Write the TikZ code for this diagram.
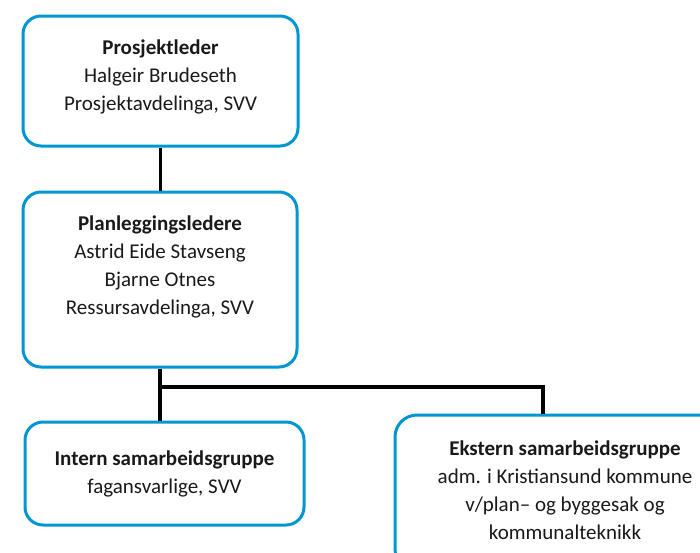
\documentclass[tikz,border=0pt]{standalone}
\usepackage{fontspec}
\setmainfont{Carlito}
\usepackage{tikz}
\definecolor{svvblue}{RGB}{0, 150, 210}
\definecolor{textgrey}{RGB}{25, 25, 25}

\begin{document}
\begin{tikzpicture}[x=1pt, y=-1pt,
  every node/.style={font=\fontsize{21}{28}\selectfont, text=textgrey, align=center},
  orgbox/.style={draw=svvblue, line width=3pt, rounded corners=18pt, inner sep=0pt},
  link/.style={line width=3.5pt}]
  \useasboundingbox (0,0) rectangle (700,552);
  % boxes
  \node[orgbox, minimum width=275pt, minimum height=130pt] (lead) at (160.5,81)
    {\textbf{Prosjektleder}\\Halgeir Brudeseth\\Prosjektavdelinga, SVV\\[-16pt]\mbox{}};
  \node[orgbox, minimum width=274pt, minimum height=175pt] (plan) at (160,279.5)
    {\textbf{Planleggingsledere}\\Astrid Eide Stavseng\\Bjarne Otnes\\Ressursavdelinga, SVV\\[0pt]\mbox{}};
  \node[orgbox, minimum width=279pt, minimum height=103pt] (intern) at (164.5,473.5)
    {\textbf{Intern samarbeidsgruppe}\\fagansvarlige, SVV};
  \node[orgbox, rounded corners=22pt, minimum width=340pt, minimum height=156pt] (ekstern) at (565,493)
    {\textbf{Ekstern samarbeidsgruppe}\\adm. i Kristiansund kommune\\v/plan-- og byggesak og\\kommunalteknikk\\[-22pt]\mbox{}};
  % connectors
  \coordinate (fork) at (160,387);
  \coordinate (turn) at (543,387);
  \draw[link] (lead.south) -- (lead.south |- plan.north);
  \draw[link] (plan.south) -- (plan.south |- intern.north);
  \draw[link] (fork) -- (turn) -- (turn |- ekstern.north);
\end{tikzpicture}
\end{document}
